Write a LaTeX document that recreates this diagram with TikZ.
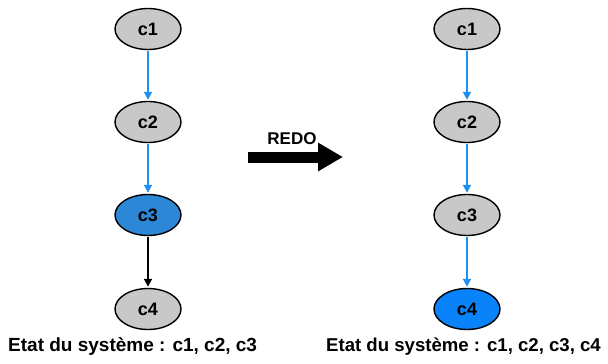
\documentclass[tikz,border=0pt]{standalone}
\usepackage{fontspec}
\setmainfont{Liberation Sans}
\usetikzlibrary{shapes.geometric,arrows.meta}
\definecolor{nodegray}{RGB}{200,200,200}
\definecolor{linkblue}{RGB}{30,144,240}
\definecolor{curblue}{RGB}{45,135,215}
\definecolor{newblue}{RGB}{10,130,250}
\tikzset{
  commit/.style={ellipse, draw=black, line width=1.4pt, fill=nodegray,
    minimum width=66pt, minimum height=41pt, inner sep=0pt,
    font=\bfseries\fontsize{18}{18}\selectfont},
  link/.style={draw=linkblue, line width=1.8pt, -{Triangle[length=8pt,width=8pt]}, shorten <=1pt, shorten >=1pt},
  blacklink/.style={draw=black, line width=1.8pt, -{Triangle[length=8pt,width=8pt]}, shorten <=1pt, shorten >=1pt},
  state/.style={font=\bfseries\fontsize{19}{19}\selectfont, anchor=west, inner sep=0pt}
}
\begin{document}
\begin{tikzpicture}[x=1pt,y=-1pt]
\useasboundingbox (0,0) rectangle (608,364);
% before REDO
\node[commit] (a1) at (148,29) {c1};
\node[commit] (a2) at (148,122) {c2};
\node[commit, fill=curblue] (a3) at (148,215) {c3};
\node[commit] (a4) at (148,309) {c4};
\draw[link] (a1) -- (a2);
\draw[link] (a2) -- (a3);
\draw[blacklink] (a3) -- (a4);
\node[state] (s1) at (8,347) {Etat du système : c1, c2, c3};
% after REDO
\node[commit] (b1) at (467,29) {c1};
\node[commit] (b2) at (467,122) {c2};
\node[commit] (b3) at (467,215) {c3};
\node[commit, fill=newblue] (b4) at (467,309) {c4};
\draw[link] (b1) -- (b2);
\draw[link] (b2) -- (b3);
\draw[link] (b3) -- (b4);
\node[state, font=\bfseries\fontsize{18.6}{18.6}\selectfont] (s2) at (326,347) {Etat du système : c1, c2, c3, c4};
% REDO arrow
\coordinate (r0) at (248,157);
\coordinate (r1) at (343,157);
\draw[line width=11pt, -{Triangle[length=25pt,width=27pt]}] (r0) -- (r1);
\node[font=\bfseries\fontsize{17}{17}\selectfont] (redo) at (292,139) {REDO};
\end{tikzpicture}
\end{document}
